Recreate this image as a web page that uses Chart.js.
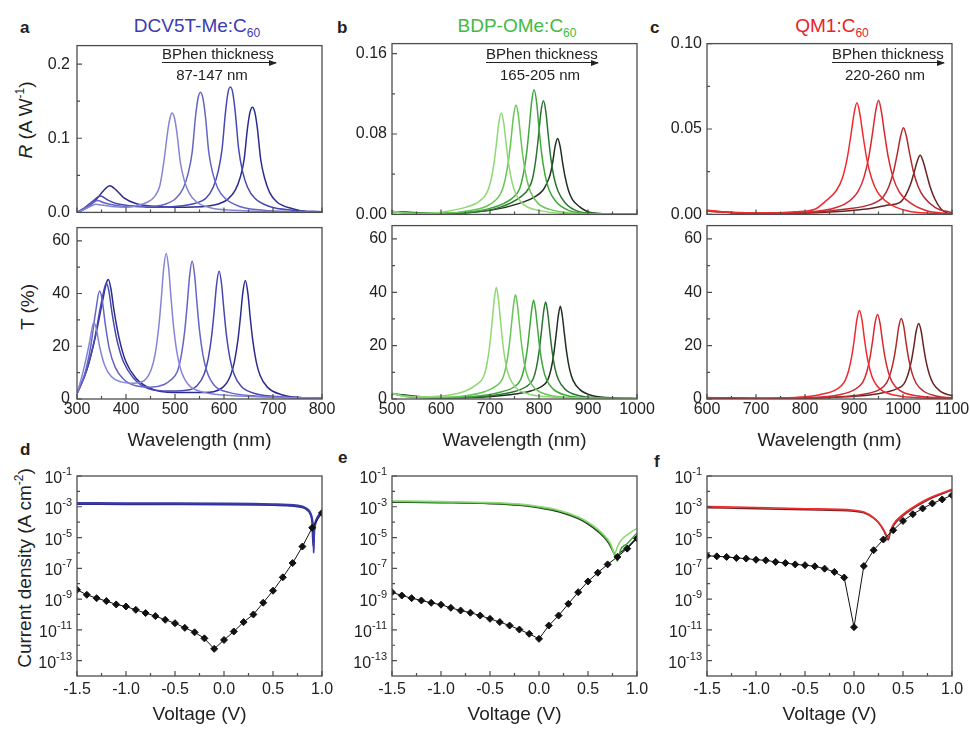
<!DOCTYPE html>
<html>
<head>
<meta charset="utf-8">
<script src="https://cdn.jsdelivr.net/npm/chart.js@4.4.1/dist/chart.umd.min.js"></script>
<style>
  body { margin: 0; width: 970px; height: 729px; position: relative; overflow: hidden; background: #fff;
         font-family: "Liberation Sans", Arial, sans-serif; color: #222; }
  canvas { position: absolute; }
  .txt { position: absolute; line-height: 1; white-space: nowrap; }
  .ctr { transform: translateX(-50%); }
  .rot { transform: translate(-50%, -50%) rotate(-90deg); font-size: 19px; }
  .letter { font-weight: bold; font-size: 17px; }
  .ttl { font-size: 19px; }
  sub, sup { font-size: 12px; line-height: 0; }
  .note { font-size: 15px; }
  .arrow { position: absolute; height: 0; border-top: 1.2px solid #222; }
  .head { position: absolute; width: 0; height: 0; border-left: 8px solid #222;
          border-top: 3px solid transparent; border-bottom: 3px solid transparent; }
</style>
</head>
<body>
<div class="txt letter" style="left:20px;top:18.6px">a</div>
<div class="txt letter" style="left:337px;top:18.6px">b</div>
<div class="txt letter" style="left:650px;top:18.6px">c</div>
<div class="txt letter" style="left:20px;top:440.6px">d</div>
<div class="txt letter" style="left:338px;top:448.6px">e</div>
<div class="txt letter" style="left:654px;top:452.6px">f</div>

<div class="txt ttl ctr" style="left:197px;top:15.6px;color:#3b3bb3">DCV5T-Me:C<sub>60</sub></div>
<div class="txt ttl ctr" style="left:517px;top:15.6px;color:#44b944">BDP-OMe:C<sub>60</sub></div>
<div class="txt ttl ctr" style="left:832px;top:15.6px;color:#e8232b">QM1:C<sub>60</sub></div>

<div class="txt rot" style="left:25px;top:120px"><i>R</i> (A W<sup>-1</sup>)</div>
<div class="txt rot" style="left:27px;top:307px">T (%)</div>
<div class="txt rot" style="left:24px;top:568px">Current density (A cm<sup>-2</sup>)</div>

<script>
const FONT = '"Liberation Sans", Arial, sans-serif';

// ---- a: DCV5T-Me:C60, responsivity (A/W) vs wavelength (nm)
const dcvR1 = [[300,0],[315,0.004],[330,0.009],[338,0.011],[350,0.010],[370,0.008],[400,0.007],[420,0.009],[444,0.014],[459,0.022],[469,0.036],[477,0.067],[484,0.104],[489,0.125],[494,0.134],[499,0.127],[504,0.107],[511,0.067],[519,0.043],[529,0.026],[544,0.014],[574,0.006],[620,0.003],[700,0.001],[800,0]];
const dcvR2 = [[300,0],[315,0.005],[330,0.012],[342,0.016],[355,0.013],[375,0.010],[400,0.008],[440,0.008],[480,0.011],[502,0.019],[517,0.033],[527,0.053],[535,0.081],[542,0.130],[547,0.154],[552,0.162],[557,0.154],[562,0.130],[569,0.081],[577,0.053],[587,0.033],[602,0.019],[632,0.008],[680,0.003],[750,0.001],[800,0]];
const dcvR3 = [[300,0],[315,0.006],[332,0.015],[348,0.022],[362,0.017],[380,0.012],[410,0.009],[450,0.007],[500,0.008],[540,0.012],[563,0.019],[578,0.034],[588,0.055],[596,0.085],[603,0.135],[608,0.161],[613,0.169],[618,0.161],[623,0.135],[630,0.085],[638,0.055],[648,0.034],[663,0.019],[693,0.008],[740,0.003],[800,0.001]];
const dcvR4 = [[300,0],[320,0.006],[340,0.018],[355,0.030],[367,0.036],[380,0.030],[395,0.020],[420,0.012],[460,0.008],[520,0.007],[580,0.010],[608,0.018],[623,0.030],[633,0.047],[641,0.071],[648,0.114],[653,0.135],[658,0.142],[663,0.135],[668,0.114],[675,0.071],[683,0.046],[693,0.027],[708,0.014],[740,0.005],[770,0.001],[800,0]];
// a: transmittance (%)
const dcvT1 = [[300,2],[312,10],[324,20],[330,26],[334,29],[339,27],[346,20],[356,13],[370,8.5],[390,6.5],[415,6],[437,7],[452,11.5],[460,17.6],[467,27.6],[472,38],[477,49.7],[482,55.2],[487,49.7],[492,38],[497,27.6],[504,17.6],[512,11],[527,5.5],[560,2.5],[600,1.5],[680,0.8],[800,0.4]];
const dcvT2 = [[300,2],[315,9],[328,20],[338,33],[346,41],[351,38],[358,28],[366,19],[378,12],[395,7.5],[420,5],[450,4.5],[478,5.5],[490,7],[505,10.5],[513,16.7],[520,26],[525,36],[530,47],[535,52.3],[540,47],[545,36],[550,26],[557,16.7],[565,10.5],[580,5.2],[610,2.5],[660,1.2],[730,0.6],[800,0.3]];
const dcvT3 = [[300,2],[318,10],[335,22],[348,35],[356,42],[360,44],[365,41],[372,32],[382,22],[395,14],[415,8],[445,4],[490,3],[530,3.5],[545,5],[560,9.7],[568,15.5],[575,24.2],[580,33.4],[585,43.6],[590,48.4],[595,43.6],[600,33.4],[605,24.2],[612,15.5],[620,9.7],[635,4.8],[665,2],[720,0.8],[800,0.3]];
const dcvT4 = [[300,2],[320,11],[338,24],[352,37],[360,44],[364,45.3],[369,42],[376,33],[386,23],[400,14],[420,8],[450,4],[500,2.5],[560,2.5],[598,4.5],[613.5,9],[621.5,14.4],[628.5,22.5],[633.5,31],[638.5,40.4],[643.5,44.9],[648.5,40.4],[653.5,31],[658.5,22.5],[665.5,14.4],[673.5,9],[688.5,4.5],[720,1.5],[760,0.5],[800,0.2]];

// ---- b: BDP-OMe:C60
const bdpR1 = [[500,0.003],[520,0.0015],[560,0.001],[610,0.003],[650,0.007],[678,0.013],[693,0.021],[701,0.032],[708,0.0505],[713,0.070],[718,0.091],[723,0.101],[728,0.091],[733,0.070],[738,0.0505],[745,0.032],[753,0.020],[768,0.010],[800,0.004],[850,0.001],[1000,0]];
const bdpR2 = [[500,0.003],[530,0.0012],[600,0.001],[660,0.004],[700,0.010],[723,0.022],[731,0.035],[738,0.0545],[743,0.075],[748,0.098],[753,0.109],[758,0.098],[763,0.075],[768,0.0545],[775,0.035],[783,0.022],[798,0.011],[830,0.004],[880,0.001],[1000,0]];
const bdpR3 = [[500,0.003],[550,0.001],[640,0.002],[700,0.006],[745,0.016],[760,0.025],[768,0.040],[775,0.062],[780,0.086],[785,0.112],[790,0.124],[795,0.112],[800,0.086],[805,0.062],[812,0.040],[820,0.025],[835,0.0125],[860,0.004],[900,0.001],[1000,0]];
const bdpR4 = [[500,0.003],[570,0.001],[660,0.002],[720,0.007],[764,0.018],[779,0.026],[787,0.036],[794,0.0565],[799,0.078],[804,0.102],[809,0.113],[814,0.102],[819,0.078],[824,0.0565],[831,0.036],[839,0.023],[854,0.011],[880,0.003],[920,0.001],[1000,0]];
const bdpR5 = [[500,0.003],[600,0.001],[700,0.004],[760,0.011],[793,0.018],[808,0.024],[816,0.031],[823,0.040],[828,0.052],[833,0.068],[838,0.0756],[843,0.068],[848,0.052],[853,0.038],[860,0.024],[868,0.015],[883,0.0075],[905,0.002],[950,0.0005],[1000,0]];
const bdpT1 = [[500,2.2],[520,1.2],[560,0.8],[610,1.3],[650,3],[673,5.5],[687,8.4],[694,13.4],[700,21],[705,30.2],[709,37.7],[713,41.9],[717,37.7],[721,30.2],[726,21],[732,13.4],[739,8.4],[753,4.2],[780,1.8],[830,0.7],[900,0.3],[1000,0.1]];
const bdpT2 = [[500,2.2],[530,0.9],[590,0.6],[650,1.2],[690,2.8],[712,4.8],[726,7.8],[733,12.5],[739,19.6],[744,28.2],[748,35.2],[752,39.1],[756,35.2],[760,28.2],[765,19.6],[771,12.5],[778,7.8],[792,3.9],[820,1.5],[870,0.5],[1000,0.1]];
const bdpT3 = [[500,2],[550,0.6],[630,0.6],[690,1.4],[728,2.9],[749,4.5],[763,7.4],[770,11.8],[776,18.5],[781,26.6],[785,33.3],[789,37],[793,33.3],[797,26.6],[802,18.5],[808,11.8],[815,7.4],[829,3.7],[855,1.4],[900,0.4],[1000,0.1]];
const bdpT4 = [[500,2],[570,0.5],[650,0.6],[710,1.4],[752,2.9],[773.5,4.6],[787.5,7.3],[794.5,11.6],[800.5,18.2],[805.5,26.2],[809.5,32.8],[813.5,36.4],[817.5,32.8],[821.5,26.2],[826.5,18.2],[832.5,11.6],[839.5,7.3],[853.5,3.6],[880,1.3],[930,0.4],[1000,0.1]];
const bdpT5 = [[500,2],[590,0.5],[680,0.7],[740,1.6],[783,3],[803.5,4.5],[817.5,7],[824.5,11.1],[830.5,17.4],[835.5,25],[839.5,31.3],[843.5,34.8],[847.5,31.3],[851.5,25],[856.5,17.4],[862.5,11.1],[869.5,7],[883.5,3.5],[910,1.2],[960,0.4],[1000,0.2]];

// ---- c: QM1:C60
const qmR1 = [[600,0.0025],[650,0.0012],[720,0.0008],[780,0.0015],[820,0.003],[841,0.0075],[864,0.014],[876,0.021],[886,0.0327],[894,0.047],[900,0.0589],[906,0.0654],[912,0.0589],[918,0.047],[926,0.0327],[936,0.021],[948,0.013],[971,0.0065],[1010,0.002],[1060,0.0006],[1100,0.0002]];
const qmR2 = [[600,0.002],[680,0.0008],[780,0.001],[850,0.003],[885,0.0067],[908,0.0134],[920,0.0214],[930,0.0334],[938,0.048],[944,0.060],[950,0.0668],[956,0.060],[962,0.048],[970,0.0334],[980,0.0214],[992,0.0134],[1015,0.0067],[1050,0.002],[1100,0.0004]];
const qmR3 = [[600,0.002],[700,0.0005],[800,0.001],[880,0.003],[936,0.006],[959,0.010],[971,0.0162],[981,0.0254],[989,0.0365],[995,0.0456],[1001,0.0507],[1007,0.0456],[1013,0.0365],[1021,0.0254],[1031,0.0162],[1043,0.010],[1066,0.004],[1100,0.001]];
const qmR4 = [[600,0.002],[700,0.0005],[820,0.001],[920,0.003],[970,0.0055],[993,0.0069],[1005,0.011],[1015,0.0173],[1023,0.0249],[1029,0.0311],[1035,0.0346],[1041,0.0311],[1047,0.0249],[1055,0.0165],[1065,0.009],[1078,0.003],[1092,0.0005],[1100,0.0002]];
const qmT1 = [[600,0.6],[700,0.3],[780,0.6],[830,1.6],[866,3.8],[881,6.6],[889,10.6],[896,16.6],[901,22.9],[906,29.9],[911,33.2],[916,29.9],[921,22.9],[926,16.6],[933,10.6],[941,6.6],[956,3.3],[990,1.2],[1040,0.4],[1100,0.2]];
const qmT2 = [[600,0.5],[700,0.2],[800,0.5],[870,1.6],[903,3.7],[918,6.3],[926,10.1],[933,15.9],[938,21.9],[943,28.5],[948,31.7],[953,28.5],[958,21.9],[963,15.9],[970,10.1],[978,6.3],[993,3.2],[1030,1.1],[1100,0.3]];
const qmT3 = [[600,0.5],[720,0.2],[850,0.6],[920,1.8],[951.5,3.5],[966.5,6],[974.5,9.7],[981.5,15.1],[986.5,20.8],[991.5,27.2],[996.5,30.2],[1001.5,27.2],[1006.5,20.8],[1011.5,15.1],[1018.5,9.7],[1026.5,6],[1041.5,3],[1070,1],[1100,0.5]];
const qmT4 = [[600,0.5],[750,0.2],[880,0.8],[950,2],[987,3.8],[1002,5.7],[1010,9.1],[1017,14.2],[1022,19.5],[1027,25.5],[1032,28.3],[1037,25.5],[1042,19.5],[1047,14.2],[1054,9.1],[1062,5.7],[1077,2.8],[1100,1.2]];

// ---- d-f: J-V (V, A cm^-2)
const darkV = [-1.5,-1.4,-1.3,-1.2,-1.1,-1.0,-0.9,-0.8,-0.7,-0.6,-0.5,-0.4,-0.3,-0.2,-0.1,0.0,0.1,0.2,0.3,0.4,0.5,0.6,0.7,0.8,0.9,1.0];
const dcvDark = [4e-9,1.9e-9,1.15e-9,7.4e-10,4.5e-10,3.3e-10,2.0e-10,1.23e-10,7.8e-11,4.5e-11,2.7e-11,1.35e-11,6.9e-12,2.8e-12,5.8e-13,2.2e-12,7.8e-12,3.2e-11,1e-10,5.8e-10,3.5e-9,2.6e-8,2.2e-7,2.6e-6,4.3e-5,4e-4];
const bdpDark = [2.8e-9,1.7e-9,1.15e-9,8.1e-10,5.7e-10,4.3e-10,2.7e-10,1.8e-10,1.3e-10,8.5e-11,5.2e-11,3.2e-11,1.9e-11,1.05e-11,5.5e-12,2.6e-12,1.9e-11,8.5e-11,4.9e-10,2.8e-9,1.4e-8,5.2e-8,1.8e-7,5.5e-7,1.9e-6,8.7e-6];
const qmDark = [6.5e-7,6e-7,5.5e-7,4.7e-7,4.3e-7,3.6e-7,3.3e-7,2.6e-7,2.2e-7,1.8e-7,1.6e-7,1.35e-7,9.5e-8,5.8e-8,2.5e-8,1.5e-11,1.4e-7,1.5e-6,7.4e-6,3e-5,1.2e-4,3.3e-4,7.8e-4,1.65e-3,3e-3,5.7e-3];
const dcvLight1 = [[-1.5,1.75e-3],[-1,1.72e-3],[-0.5,1.68e-3],[0,1.62e-3],[0.3,1.56e-3],[0.5,1.48e-3],[0.65,1.38e-3],[0.75,1.22e-3],[0.8,1.05e-3],[0.84,8e-4],[0.87,5.5e-4],[0.89,3e-4],[0.9,1.6e-4],[0.91,4e-5],[0.915,1e-6],[0.92,1.5e-5],[0.93,6e-5],[0.95,1.6e-4],[0.97,2.8e-4],[1.0,5.5e-4]];
const dcvLight2 = [[-1.5,1.5e-3],[-1,1.47e-3],[-0.5,1.44e-3],[0,1.4e-3],[0.3,1.35e-3],[0.5,1.28e-3],[0.65,1.18e-3],[0.75,1.05e-3],[0.8,9e-4],[0.84,6.8e-4],[0.87,4.5e-4],[0.89,2.3e-4],[0.9,9e-5],[0.91,3e-6],[0.92,4e-5],[0.935,1.1e-4],[0.95,1.9e-4],[0.97,3e-4],[1.0,5e-4]];
const bdpLight1 = [[-1.5,2.4e-3],[-1,2.2e-3],[-0.5,1.9e-3],[-0.2,1.5e-3],[0,1.05e-3],[0.2,6e-4],[0.4,2.2e-4],[0.5,1e-4],[0.6,3.5e-5],[0.7,8e-6],[0.74,3e-6],[0.77,8e-7],[0.8,2.5e-6],[0.84,7e-6],[0.9,1.5e-5],[1.0,4e-5]];
const bdpLight2 = [[-1.5,2.2e-3],[-1,2.0e-3],[-0.5,1.7e-3],[-0.2,1.35e-3],[0,9.5e-4],[0.2,5.5e-4],[0.4,2e-4],[0.5,9e-5],[0.6,3e-5],[0.7,6.5e-6],[0.74,2.3e-6],[0.77,9e-7],[0.8,3e-7],[0.83,1.5e-6],[0.9,4e-6],[1.0,2e-5]];
const bdpLight3 = [[-1.5,2.0e-3],[-1,1.85e-3],[-0.5,1.6e-3],[-0.2,1.25e-3],[0,8.5e-4],[0.2,4.8e-4],[0.4,1.7e-4],[0.5,7.5e-5],[0.6,2.5e-5],[0.7,5.5e-6],[0.74,2e-6],[0.77,8e-7],[0.79,4.5e-7],[0.82,9e-7],[0.9,2.2e-6],[1.0,1e-5]];
const qmLight1 = [[-1.5,1.05e-3],[-1,9e-4],[-0.5,7.5e-4],[0,6e-4],[0.1,4.5e-4],[0.2,2e-4],[0.25,1e-4],[0.3,3.5e-5],[0.33,1.5e-5],[0.35,1e-5],[0.37,2.5e-5],[0.4,7e-5],[0.5,3.2e-4],[0.6,9e-4],[0.7,2.2e-3],[0.8,4.5e-3],[0.9,8e-3],[1.0,1.4e-2]];
const qmLight2 = [[-1.5,8.5e-4],[-1,7.5e-4],[-0.5,6.3e-4],[0,5.2e-4],[0.1,4e-4],[0.2,1.8e-4],[0.25,9e-5],[0.3,3e-5],[0.33,1.2e-5],[0.35,7e-6],[0.37,2e-5],[0.4,5.5e-5],[0.5,2.6e-4],[0.6,7.5e-4],[0.7,1.8e-3],[0.8,3.8e-3],[0.9,7e-3],[1.0,1.2e-2]];

const blues = ['#8585d6', '#6565c6', '#4848b2', '#2c2c90'];
const greens = ['#8fd874', '#68c556', '#3fa83a', '#2c7530', '#1f2f20'];
const reds = ['#ef2b30', '#d8292f', '#b02a2e', '#6a2323'];

// inward ticks, closed frame, log tick labels with superscripts
const frameTicks = {
  id: 'frameTicks',
  afterDatasetsDraw(chart, args, o) {
    const { ctx, chartArea: a, scales: { x, y } } = chart;
    ctx.save();
    ctx.strokeStyle = '#4d4d4d';
    ctx.lineWidth = 1.2;
    ctx.beginPath();
    const tx = (vals, len) => vals.forEach(v => { const p = x.getPixelForValue(v); ctx.moveTo(p, a.bottom); ctx.lineTo(p, a.bottom - len); });
    const ty = (vals, len) => vals.forEach(v => { const p = y.getPixelForValue(v); ctx.moveTo(a.left, p); ctx.lineTo(a.left + len, p); });
    tx(o.xMajor || [], 5); tx(o.xMinor || [], 3);
    ty(o.yMajor || [], 5); ty(o.yMinor || [], 3);
    ctx.stroke();
    ctx.lineWidth = 1.3;
    ctx.strokeRect(a.left, a.top, a.right - a.left, a.bottom - a.top);
    if (o.logLabels) {
      ctx.fillStyle = '#222';
      ctx.textBaseline = 'alphabetic';
      ctx.textAlign = 'right';
      o.logLabels.forEach(e => {
        const p = y.getPixelForValue(Math.pow(10, e));
        ctx.font = '11px ' + FONT;
        const sup = String(e);
        const w = ctx.measureText(sup).width;
        ctx.fillText(sup, a.left - 5, p - 1);
        ctx.font = '16px ' + FONT;
        ctx.fillText('10', a.left - 5 - w, p + 7);
      });
    }
    ctx.restore();
  }
};

function pts(list) { return list.map(([x, y]) => ({ x, y })); }
function line(list, color, width) {
  return { data: pts(list), borderColor: color, borderWidth: width || 1.5, pointRadius: 0, fill: false, cubicInterpolationMode: 'monotone' };
}
function dark(vals) {
  return { data: darkV.map((v, i) => ({ x: v, y: vals[i] })), borderColor: '#111', borderWidth: 1, pointRadius: 3.5,
           pointStyle: 'rectRot', pointBackgroundColor: '#111', pointBorderColor: '#111', fill: false, tension: 0 };
}

function panel(g) {
  const c = document.createElement('canvas');
  const pr = 22;
  c.width = g.yw + (g.R - g.L) + pr;
  c.height = g.pt + (g.B - g.T) + g.xh;
  c.style.left = (g.L - g.yw) + 'px';
  c.style.top = (g.T - g.pt) + 'px';
  document.body.appendChild(c);
  const tickFont = { size: 16, family: FONT };
  const yScale = g.log ? {
    type: 'logarithmic', min: 1e-14, max: 1e-1,
    ticks: { display: false }
  } : {
    type: 'linear', min: 0, max: g.yMax,
    ticks: { stepSize: g.yStep, includeBounds: false, padding: g.yPad, font: tickFont, color: '#222',
             callback: v => v.toFixed(g.yDec) }
  };
  yScale.grid = { display: false, drawTicks: false };
  yScale.border = { display: false };
  yScale.afterFit = s => { s.width = g.yw; };
  new Chart(c, {
    type: 'line',
    data: { datasets: g.datasets },
    options: {
      responsive: false, animation: false, devicePixelRatio: 1,
      layout: { padding: { top: g.pt, right: pr, left: 0, bottom: 0 } },
      plugins: { legend: { display: false }, tooltip: { enabled: false }, frameTicks: g.frame },
      events: [],
      scales: {
        x: {
          type: 'linear', min: g.xMin, max: g.xMax,
          grid: { display: false, drawTicks: false }, border: { display: false },
          ticks: { display: !!g.xTitle, stepSize: g.xStep, autoSkip: false, maxRotation: 0, includeBounds: false,
                   padding: g.xPad || 0, font: tickFont, color: '#222', callback: v => g.xDec ? v.toFixed(g.xDec) : String(Math.round(v)) },
          title: { display: !!g.xTitle, text: g.xTitle, color: '#222', font: { size: 19, family: FONT }, padding: { top: 0, bottom: 4 } },
          afterFit: s => { s.height = g.xh; }
        },
        y: yScale
      }
    },
    plugins: [frameTicks]
  });
}

const cols = [
  { L: 77, R: 322, yw: 77, yPad: 7, xMin: 300, xMax: 800 },
  { L: 392, R: 637, yw: 70, yPad: 5, xMin: 500, xMax: 1000 },
  { L: 707, R: 952, yw: 70, yPad: 5, xMin: 600, xMax: 1100 }
];
function wlTicks(c) {
  const major = [], minor = [];
  for (let v = c.xMin; v <= c.xMax; v += 100) { major.push(v); if (v + 50 < c.xMax) minor.push(v + 50); }
  return { major, minor };
}

const rSets = [
  [line(dcvR1, blues[0]), line(dcvR2, blues[1]), line(dcvR3, blues[2]), line(dcvR4, blues[3])],
  [line(bdpR1, greens[0]), line(bdpR2, greens[1]), line(bdpR3, greens[2]), line(bdpR4, greens[3]), line(bdpR5, greens[4])],
  [line(qmR1, reds[0]), line(qmR2, reds[1]), line(qmR3, reds[2]), line(qmR4, reds[3])]
];
const tSets = [
  [line(dcvT1, blues[0]), line(dcvT2, blues[1]), line(dcvT3, blues[2]), line(dcvT4, blues[3])],
  [line(bdpT1, greens[0]), line(bdpT2, greens[1]), line(bdpT3, greens[2]), line(bdpT4, greens[3]), line(bdpT5, greens[4])],
  [line(qmT1, reds[0]), line(qmT2, reds[1]), line(qmT3, reds[2]), line(qmT4, reds[3])]
];
const jSets = [
  [dark(dcvDark), line(dcvLight1, '#3a3aa8', 1.9), line(dcvLight2, '#2c2c96', 1.9)],
  [dark(bdpDark), line(bdpLight1, greens[0], 1.5), line(bdpLight2, greens[2], 1.5), line(bdpLight3, greens[4], 1.5)],
  [dark(qmDark), line(qmLight1, reds[0], 1.6), line(qmLight2, '#7a2525', 1.5)]
];
const rScale = [
  { yMax: 0.225, yStep: 0.1, yDec: 1, yMajor: [0, 0.1, 0.2], yMinor: [0.05, 0.15] },
  { yMax: 0.17, yStep: 0.08, yDec: 2, yMajor: [0, 0.08, 0.16], yMinor: [0.04, 0.12] },
  { yMax: 0.1, yStep: 0.05, yDec: 2, yMajor: [0, 0.05, 0.1], yMinor: [0.025, 0.075] }
];
const decMajor = [-1, -3, -5, -7, -9, -11, -13];
const decMinor = [-2, -4, -6, -8, -10, -12];

cols.forEach((c, i) => {
  const wl = wlTicks(c);
  panel({ ...c, T: 41, B: 217, pt: 12, xh: 12, ...rScale[i], xStep: 100, datasets: rSets[i],
          frame: { xMajor: wl.major, xMinor: wl.minor, yMajor: rScale[i].yMajor, yMinor: rScale[i].yMinor } });
  panel({ ...c, T: 223, B: 399, pt: 12, xh: 57, yMax: 65, yStep: 20, yDec: 0, xStep: 100, xPad: 1,
          xTitle: 'Wavelength (nm)', datasets: tSets[i],
          frame: { xMajor: wl.major, xMinor: wl.minor, yMajor: [0, 20, 40, 60], yMinor: [10, 30, 50] } });
  panel({ ...c, T: 476, B: 676, pt: 12, xh: 54, log: true, xMin: -1.5, xMax: 1.0, xStep: 0.5, xDec: 1, xPad: 4,
          xTitle: 'Voltage (V)', datasets: jSets[i],
          frame: { xMajor: [-1.5, -1, -0.5, 0, 0.5, 1], xMinor: [-1.25, -0.75, -0.25, 0.25, 0.75],
                   yMajor: decMajor.map(e => Math.pow(10, e)), yMinor: decMinor.map(e => Math.pow(10, e)), logLabels: decMajor } });
});

// "BPhen thickness" notes with arrow
const notes = [
  { left: 162, width: 114, range: '87-147 nm', center: 212 },
  { left: 486, width: 112, range: '165-205 nm', center: 540 },
  { left: 832, width: 112, range: '220-260 nm', center: 885 }
];
notes.forEach(n => {
  const t = document.createElement('div');
  t.className = 'txt note';
  t.style.left = n.left + 'px'; t.style.top = '46.3px';
  t.textContent = 'BPhen thickness';
  document.body.appendChild(t);
  const a = document.createElement('div');
  a.className = 'arrow';
  a.style.left = n.left + 'px'; a.style.top = '62px'; a.style.width = n.width + 'px';
  document.body.appendChild(a);
  const h = document.createElement('div');
  h.className = 'head';
  h.style.left = (n.left + n.width - 7) + 'px'; h.style.top = '59.6px';
  document.body.appendChild(h);
  const r = document.createElement('div');
  r.className = 'txt note ctr';
  r.style.left = n.center + 'px'; r.style.top = '67.3px';
  r.textContent = n.range;
  document.body.appendChild(r);
});
</script>
</body>
</html>
